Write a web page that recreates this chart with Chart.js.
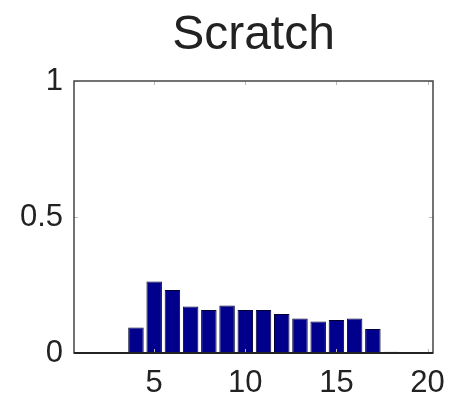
<!DOCTYPE html>
<html>
<head>
<meta charset="utf-8">
<script src="https://cdn.jsdelivr.net/npm/chart.js@4"></script>
<style>
  html, body { margin: 0; padding: 0; background: #fff; }
  #wrap { width: 451px; height: 397px; }
</style>
</head>
<body>
<div id="wrap"><canvas id="chart" width="451" height="397"></canvas></div>
<script>
// Histogram values
const BINS = [1, 2, 3, 4, 5, 6, 7, 8, 9, 10, 11, 12, 13, 14, 15, 16, 17, 18, 19, 20];
const FREQ = [0, 0, 0, 0.094, 0.263, 0.232, 0.171, 0.158, 0.175, 0.158,
              0.158, 0.143, 0.127, 0.116, 0.121, 0.127, 0.088, 0.005, 0, 0];
const X_TICKS = [5, 10, 15, 20];
const Y_TICKS = [0, 0.5, 1];

const FONT = 'Liberation Sans, Arial, sans-serif';

// Box around the axes, with small inward ticks (matlab style)
const boxPlugin = {
    id: 'box',
    afterDraw(chart) {
        const { ctx, chartArea: a, scales } = chart;
        ctx.save();
        ctx.strokeStyle = '#bbb';
        ctx.lineWidth = 1;
        scales.x.ticks.forEach(t => {
            const px = Math.round(scales.x.getPixelForValue(t.value)) + 0.5;
            ctx.beginPath();
            ctx.moveTo(px, a.top); ctx.lineTo(px, a.top + 4);
            ctx.moveTo(px, a.bottom); ctx.lineTo(px, a.bottom - 4);
            ctx.stroke();
        });
        scales.y.ticks.forEach(t => {
            const py = Math.round(scales.y.getPixelForValue(t.value)) + 0.5;
            ctx.beginPath();
            ctx.moveTo(a.left, py); ctx.lineTo(a.left + 4, py);
            ctx.moveTo(a.right, py); ctx.lineTo(a.right - 4, py);
            ctx.stroke();
        });
        ctx.strokeStyle = '#444';
        ctx.lineWidth = 1.5;
        ctx.strokeRect(a.left, a.top, a.right - a.left, a.bottom - a.top);
        // zero-height bins show as a heavier base line
        ctx.strokeStyle = '#222';
        ctx.lineWidth = 2;
        ctx.beginPath();
        ctx.moveTo(a.left, a.bottom);
        ctx.lineTo(a.right, a.bottom);
        ctx.stroke();
        ctx.restore();
    }
};

const ctx = document.getElementById('chart').getContext('2d');
new Chart(ctx, {
    type: 'bar',
    data: {
        datasets: [{
            data: BINS.map((b, i) => ({ x: b, y: FREQ[i] })),
            backgroundColor: '#00008c',
            borderColor: '#000030',
            borderWidth: 1,
            borderSkipped: 'start',
            categoryPercentage: 1,
            barPercentage: 0.85
        }]
    },
    options: {
        responsive: false,
        animation: false,
        layout: { padding: { left: 0, right: 18, top: 0, bottom: 0 } },
        plugins: {
            legend: { display: false },
            tooltip: { enabled: false },
            title: {
                display: true,
                text: 'Scratch',
                fullSize: false,
                color: '#222',
                font: { family: FONT, size: 48, weight: 'normal', lineHeight: 1.2 },
                padding: { top: 7, bottom: 16.4 }
            }
        },
        scales: {
            x: {
                type: 'linear',
                min: 0.6,
                max: 20.3,
                offset: false,
                grid: { display: false, drawTicks: false },
                border: { display: false },
                afterBuildTicks: s => { s.ticks = X_TICKS.map(v => ({ value: v })); },
                afterFit: s => { s.height = 44; s.paddingLeft = 0; s.paddingRight = 0; },
                ticks: {
                    color: '#222',
                    padding: 12,
                    maxRotation: 0,
                    callback: v => String(v),
                    font: { family: FONT, size: 31 }
                }
            },
            y: {
                min: 0,
                max: 1,
                grid: { display: false, drawTicks: false },
                border: { display: false },
                afterBuildTicks: s => { s.ticks = Y_TICKS.map(v => ({ value: v })); },
                afterFit: s => { s.width = 74; },
                ticks: {
                    color: '#222',
                    padding: 11,
                    callback: v => String(v),
                    font: { family: FONT, size: 31 }
                }
            }
        }
    },
    plugins: [boxPlugin]
});
</script>
</body>
</html>
